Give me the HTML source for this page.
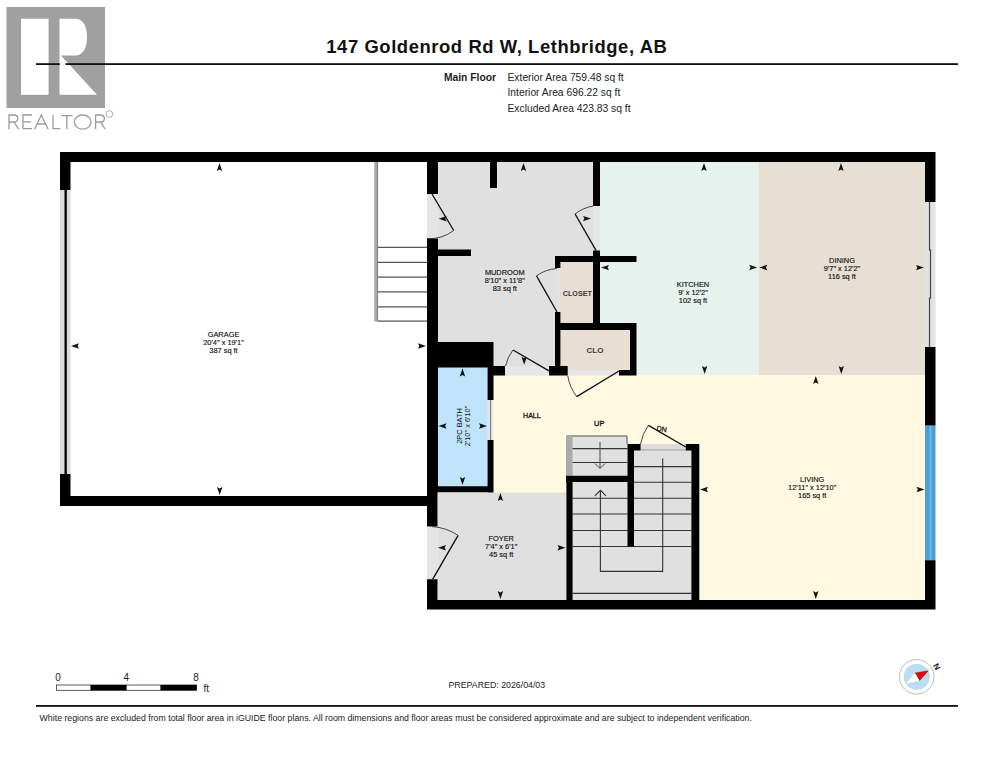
<!DOCTYPE html>
<html><head><meta charset="utf-8"><style>
html,body{margin:0;padding:0;background:#fff;}
body{width:993px;height:768px;overflow:hidden;position:relative;}
svg{position:absolute;left:0;top:0;font-family:"Liberation Sans",sans-serif;}
</style></head><body>
<svg width="993" height="768" viewBox="0 0 993 768">
<defs><path id="ar" d="M0,0 L2.7,8 L0,6.6 L-2.7,8 Z" fill="#111"/></defs>
<rect width="993" height="768" fill="#fff"/>
<!-- header -->
<text x="326.3" y="53" font-size="18.4" font-weight="bold" fill="#111" textLength="340.5" lengthAdjust="spacing">147 Goldenrod Rd W, Lethbridge, AB</text>

<text x="496" y="80.5" font-size="10.3" font-weight="bold" fill="#222" text-anchor="end">Main Floor</text>
<text x="507.5" y="80.5" font-size="10.3" fill="#222">Exterior Area 759.48 sq ft</text>
<text x="507.5" y="96.3" font-size="10.3" fill="#222">Interior Area 696.22 sq ft</text>
<text x="507.5" y="111.8" font-size="10.3" fill="#222">Excluded Area 423.83 sq ft</text>
<!-- logo -->
<rect x="6.5" y="7" width="98.5" height="101" fill="#a0a0a0"/>
<rect x="21" y="18.75" width="27.6" height="76" fill="#fff"/>
<path d="M59.5,18.75 H75 C84,18.75 87,27 87,37 C87,48 83,55.5 75,55.5 H61 L97,94.8 H59.5 Z" fill="#fff"/>
<rect x="36" y="63.2" width="922" height="1.8" fill="#111"/>
<rect x="59.8" y="62.5" width="5.7" height="3.2" fill="#f4f4f4"/>
<g fill="none" stroke="#9a9a9a" stroke-width="1.3">
<path d="M9,129.2 V115 H14 C19,115 19,122 14,122 H9 M14,122 L18.6,129.2"/>
<path d="M32,115 H23 V128.55 H32 M23,121.8 H31"/>
<path d="M34.6,129.2 L41.3,115 L48.1,129.2 M37.2,124 H45.5"/>
<path d="M53,115 V128.55 H60.4"/>
<path d="M61.2,115.65 H72.5 M66.85,115.65 V129.2"/>
<ellipse cx="82.7" cy="122.1" rx="8.3" ry="7.1"/>
<path d="M95.6,129.2 V115 H100.6 C105.6,115 105.6,122 100.6,122 H95.6 M100.6,122 L105.2,129.2"/>
<circle cx="109.4" cy="114" r="3.4" stroke-width="0.8"/>
</g>
<!-- plan -->
<rect x="438" y="162" width="155" height="213.6" fill="#e0e0e0" />
<rect x="593" y="162" width="166" height="213.6" fill="#e5f2ee" />
<rect x="759" y="162" width="166" height="213.6" fill="#e7ded4" />
<rect x="493" y="375.1" width="432" height="224.9" fill="#fff9e1" />
<rect x="437.5" y="492.5" width="128.9" height="107.5" fill="#e0e0e0" />
<rect x="437" y="367" width="51" height="119.5" fill="#bfe3fa" />
<rect x="560" y="262" width="33" height="61" fill="#e7ded4" />
<rect x="560" y="330" width="70" height="40" fill="#e7ded4" />
<rect x="572.6" y="482" width="118.8" height="118" fill="#e0e0e0" />
<rect x="634" y="450.4" width="57.4" height="149.6" fill="#e0e0e0" />
<rect x="566" y="435.6" width="61.5" height="40.1" fill="#e0e0e0" />
<rect x="60" y="190" width="10.5" height="284" fill="#dcdcdc" />
<rect x="64.5" y="190" width="2.3" height="284" fill="#000" />
<rect x="925" y="202" width="10.5" height="145" fill="#e2e2e2" />
<path d="M929.5,202 V250 H930.5 V298 H929.5 V347" fill="none" stroke="#444" stroke-width="1.2" />
<rect x="925" y="425.5" width="10.5" height="134.8" fill="#4a9fd6" />
<rect x="929.5" y="425.5" width="2.0" height="134.8" fill="#6db9e6" />
<rect x="427" y="194" width="11" height="44.5" fill="#e4e4e4" />
<rect x="593" y="206" width="7" height="44.4" fill="#e2e6e5" />
<rect x="505" y="366" width="44" height="9.6" fill="#e6e6e8" />
<rect x="567.7" y="370" width="51.3" height="5.6" fill="#e6e6e8" />
<rect x="427" y="526.6" width="10.5" height="52.7" fill="#e4e4e4" />
<rect x="555" y="268" width="5.4" height="44" fill="#e4e2e0" />
<rect x="487.6" y="400" width="5.9" height="40" fill="#ebebeb" />
<rect x="489.8" y="400" width="1.4" height="40" fill="#8a8a8a" />
<rect x="640.6" y="444" width="45.2" height="6.4" fill="#dcdcdc" />
<rect x="374.3" y="162" width="3.7" height="159.5" fill="#a8a8a8" />
<line x1="377.6" y1="162" x2="377.6" y2="321.5" stroke="#777" stroke-width="0.8"/>
<line x1="378" y1="247.3" x2="427" y2="247.3" stroke="#555" stroke-width="1.3"/>
<line x1="378" y1="262.3" x2="427" y2="262.3" stroke="#555" stroke-width="1.3"/>
<line x1="378" y1="277.2" x2="427" y2="277.2" stroke="#555" stroke-width="1.3"/>
<line x1="378" y1="291.9" x2="427" y2="291.9" stroke="#555" stroke-width="1.3"/>
<line x1="378" y1="306.8" x2="427" y2="306.8" stroke="#555" stroke-width="1.3"/>
<line x1="378" y1="321.1" x2="427" y2="321.1" stroke="#555" stroke-width="1.3"/>
<path d="M566.5,475.7 V436 H627 V444" fill="none" stroke="#555" stroke-width="1" />
<rect x="566" y="435.6" width="6.5" height="40.1" fill="#aaa" />
<line x1="572.5" y1="448.6" x2="627.5" y2="448.6" stroke="#333" stroke-width="1.1"/>
<line x1="572.5" y1="462.5" x2="627.5" y2="462.5" stroke="#333" stroke-width="1.1"/>
<line x1="600" y1="442" x2="600" y2="468" stroke="#444" stroke-width="1"/>
<path d="M595,463.5 L600,468.5 L605,463.5" fill="none" stroke="#444" stroke-width="1" />
<line x1="640.6" y1="450" x2="685.8" y2="450" stroke="#999" stroke-width="1"/>
<line x1="634" y1="466.6" x2="691.4" y2="466.6" stroke="#333" stroke-width="1.1"/>
<line x1="634" y1="482.3" x2="691.4" y2="482.3" stroke="#333" stroke-width="1.1"/>
<line x1="572.6" y1="498.2" x2="691.4" y2="498.2" stroke="#333" stroke-width="1.1"/>
<line x1="572.6" y1="514" x2="691.4" y2="514" stroke="#333" stroke-width="1.1"/>
<line x1="572.6" y1="530.5" x2="691.4" y2="530.5" stroke="#333" stroke-width="1.1"/>
<line x1="572.6" y1="546.5" x2="691.4" y2="546.5" stroke="#333" stroke-width="1.1"/>
<line x1="572.6" y1="593.4" x2="691.4" y2="593.4" stroke="#333" stroke-width="1.1"/>
<path d="M600.4,490.5 V571.4 H662.7 V458.4" fill="none" stroke="#333" stroke-width="1.1" />
<path d="M594.8,495.8 L600.4,490.3 L606,495.8" fill="none" stroke="#333" stroke-width="1.1" />
<path d="M60,152H935.5V162H60ZM60,152H70.5V190H60ZM60,474H70.5V506H60ZM60,496H437.5V506H60ZM427,600H935.5V609.5H427ZM925,152H935.5V202H925ZM925,347H935.5V425.5H925ZM925,560.3H935.5V609.5H925ZM427,162H438V194H427ZM427,238.5H438V342H427ZM438,249.5H471V256H438ZM490,162H497V188H490ZM427,342H493.5V367.5H427ZM427,367H438V492.5H427ZM487.6,367H493.5V400H487.6ZM487.6,440H493.5V492.5H487.6ZM427,486.2H493.5V492.3H427ZM427,492H437.5V526.6H427ZM427,579.3H437.5V609.5H427ZM493.5,366H505V375.6H493.5ZM593,162H600V206H593ZM593,250.4H600V323H593ZM555,256H636.5V262H555ZM555,256H560.4V268H555ZM555,312H560.4V375.6H555ZM549,366H567.7V375.6H549ZM555,323H636.5V330H555ZM630,323H636.5V375.6H630ZM619,370H636.5V375.6H619ZM566,475.7H634V482H566ZM627.5,444H634V546.5H627.5ZM627.5,444H640.6V450.4H627.5ZM685.8,444H699.3V450.4H685.8ZM691.4,444H699.3V609.5H691.4ZM566.4,475.7H572.6V609.5H566.4Z" fill="#000"/>
<path d="M432,194 L453.7,230.5" fill="none" stroke="#111" stroke-width="1.35" />
<path d="M453.7,230.5 A40,40 0 0 1 427,238.6" fill="none" stroke="#333" stroke-width="0.9" />
<path d="M596,250.4 L575.1,214" fill="none" stroke="#111" stroke-width="1.35" />
<path d="M575.1,214 A40,40 0 0 1 593,206" fill="none" stroke="#333" stroke-width="0.9" />
<path d="M557,312 L536.5,275.8" fill="none" stroke="#111" stroke-width="1.35" />
<path d="M536.5,275.8 A40,40 0 0 1 557,268.5" fill="none" stroke="#333" stroke-width="0.9" />
<path d="M549,370.8 L513,350" fill="none" stroke="#111" stroke-width="1.35" />
<path d="M513,350 A40,40 0 0 0 505.5,366" fill="none" stroke="#333" stroke-width="0.9" />
<path d="M619,371 L576.7,396.7" fill="none" stroke="#111" stroke-width="1.35" />
<path d="M576.7,396.7 A48,48 0 0 1 567.7,375.6" fill="none" stroke="#333" stroke-width="0.9" />
<path d="M685.8,447 L648.4,425.4" fill="none" stroke="#111" stroke-width="1.35" />
<path d="M648.4,425.4 A44,44 0 0 0 640.6,444" fill="none" stroke="#333" stroke-width="0.9" />
<path d="M432.6,579.3 L458.1,535.4" fill="none" stroke="#111" stroke-width="1.35" />
<path d="M458.1,535.4 A52,52 0 0 0 432,526.6" fill="none" stroke="#333" stroke-width="0.9" />
<use href="#ar" transform="translate(219.5,163) rotate(0)"/>
<use href="#ar" transform="translate(219.7,495) rotate(180)"/>
<use href="#ar" transform="translate(71,346) rotate(270)"/>
<use href="#ar" transform="translate(426,346) rotate(90)"/>
<use href="#ar" transform="translate(523.5,163) rotate(0)"/>
<use href="#ar" transform="translate(438.7,218.8) rotate(270)"/>
<use href="#ar" transform="translate(591,218.6) rotate(90)"/>
<use href="#ar" transform="translate(524.2,364.8) rotate(180)"/>
<use href="#ar" transform="translate(704,163) rotate(0)"/>
<use href="#ar" transform="translate(704.6,374) rotate(180)"/>
<use href="#ar" transform="translate(601,267.6) rotate(270)"/>
<use href="#ar" transform="translate(757.2,267.5) rotate(90)"/>
<use href="#ar" transform="translate(841,163) rotate(0)"/>
<use href="#ar" transform="translate(841.3,374) rotate(180)"/>
<use href="#ar" transform="translate(759.3,267.5) rotate(270)"/>
<use href="#ar" transform="translate(924,267.6) rotate(90)"/>
<use href="#ar" transform="translate(462.5,368.5) rotate(0)"/>
<use href="#ar" transform="translate(462.5,485) rotate(180)"/>
<use href="#ar" transform="translate(438.5,426) rotate(270)"/>
<use href="#ar" transform="translate(487,426) rotate(90)"/>
<use href="#ar" transform="translate(500.4,493) rotate(0)"/>
<use href="#ar" transform="translate(500.4,599) rotate(180)"/>
<use href="#ar" transform="translate(438,547.7) rotate(270)"/>
<use href="#ar" transform="translate(565.5,547.7) rotate(90)"/>
<use href="#ar" transform="translate(815.8,376) rotate(0)"/>
<use href="#ar" transform="translate(815.8,599) rotate(180)"/>
<use href="#ar" transform="translate(700,489.5) rotate(270)"/>
<use href="#ar" transform="translate(924.5,489.5) rotate(90)"/>
<text x="223.5" y="336.6" font-size="7.4" fill="#111" text-anchor="middle" font-weight="normal" stroke="#111" stroke-width="0.15">GARAGE</text>
<text x="223.5" y="344.70000000000005" font-size="7.4" fill="#111" text-anchor="middle" font-weight="normal" stroke="#111" stroke-width="0.15">20'4" x 19'1"</text>
<text x="223.5" y="352.8" font-size="7.4" fill="#111" text-anchor="middle" font-weight="normal" stroke="#111" stroke-width="0.15">387 sq ft</text>
<text x="504.8" y="274.6" font-size="7.4" fill="#111" text-anchor="middle" font-weight="normal" stroke="#111" stroke-width="0.15">MUDROOM</text>
<text x="504.8" y="282.70000000000005" font-size="7.4" fill="#111" text-anchor="middle" font-weight="normal" stroke="#111" stroke-width="0.15">8'10" x 11'8"</text>
<text x="504.8" y="290.8" font-size="7.4" fill="#111" text-anchor="middle" font-weight="normal" stroke="#111" stroke-width="0.15">83 sq ft</text>
<text x="693" y="286.6" font-size="7.4" fill="#111" text-anchor="middle" font-weight="normal" stroke="#111" stroke-width="0.15">KITCHEN</text>
<text x="693" y="294.70000000000005" font-size="7.4" fill="#111" text-anchor="middle" font-weight="normal" stroke="#111" stroke-width="0.15">9' x 12'2"</text>
<text x="693" y="302.8" font-size="7.4" fill="#111" text-anchor="middle" font-weight="normal" stroke="#111" stroke-width="0.15">102 sq ft</text>
<text x="842" y="262.6" font-size="7.4" fill="#111" text-anchor="middle" font-weight="normal" stroke="#111" stroke-width="0.15">DINING</text>
<text x="842" y="270.70000000000005" font-size="7.4" fill="#111" text-anchor="middle" font-weight="normal" stroke="#111" stroke-width="0.15">9'7" x 12'2"</text>
<text x="842" y="278.8" font-size="7.4" fill="#111" text-anchor="middle" font-weight="normal" stroke="#111" stroke-width="0.15">116 sq ft</text>
<text x="501.2" y="540.6" font-size="7.4" fill="#111" text-anchor="middle" font-weight="normal" stroke="#111" stroke-width="0.15">FOYER</text>
<text x="501.2" y="548.7" font-size="7.4" fill="#111" text-anchor="middle" font-weight="normal" stroke="#111" stroke-width="0.15">7'4" x 6'1"</text>
<text x="501.2" y="556.8000000000001" font-size="7.4" fill="#111" text-anchor="middle" font-weight="normal" stroke="#111" stroke-width="0.15">45 sq ft</text>
<text x="812.2" y="482.1" font-size="7.4" fill="#111" text-anchor="middle" font-weight="normal" stroke="#111" stroke-width="0.15">LIVING</text>
<text x="812.2" y="490.20000000000005" font-size="7.4" fill="#111" text-anchor="middle" font-weight="normal" stroke="#111" stroke-width="0.15">12'11" x 12'10"</text>
<text x="812.2" y="498.3" font-size="7.4" fill="#111" text-anchor="middle" font-weight="normal" stroke="#111" stroke-width="0.15">165 sq ft</text>
<g transform="translate(465.3,426) rotate(-90)">
<text x="0" y="-3.5" font-size="7.4" fill="#111" text-anchor="middle" font-weight="normal" >2PC BATH</text>
<text x="0" y="4.6" font-size="7.4" fill="#111" text-anchor="middle" font-weight="normal" >2'10" x 6'10"</text>
</g>
<text x="577.3" y="295.5" font-size="8" fill="#3f3a36" text-anchor="middle" font-weight="bold" textLength="29" lengthAdjust="spacingAndGlyphs">CLOSET</text>
<text x="595" y="352.5" font-size="8" fill="#3f3a36" text-anchor="middle" font-weight="bold" >CLO</text>
<text x="531.9" y="418" font-size="7.4" fill="#111" text-anchor="middle" font-weight="normal" stroke="#111" stroke-width="0.3" textLength="17.7" lengthAdjust="spacingAndGlyphs">HALL</text>
<text x="599.2" y="426" font-size="7.4" fill="#111" text-anchor="middle" font-weight="normal" stroke="#111" stroke-width="0.3">UP</text>
<text x="661.7" y="431.6" font-size="7.2" fill="#111" text-anchor="middle" font-weight="normal" stroke="#111" stroke-width="0.25" transform="rotate(9 661.7 429)">DN</text>
<!-- scale bar -->
<rect x="56.5" y="685" width="140" height="5.3" fill="#fff" stroke="#333" stroke-width="0.8"/>
<rect x="90.4" y="685" width="36.2" height="5.3" fill="#000"/>
<rect x="160.4" y="685" width="36.3" height="5.3" fill="#000"/>
<text x="58" y="681" font-size="10" fill="#222" text-anchor="middle">0</text>
<text x="126.2" y="681" font-size="10" fill="#222" text-anchor="middle">4</text>
<text x="196.1" y="681" font-size="10" fill="#222" text-anchor="middle">8</text>
<text x="203.5" y="691.5" font-size="10" fill="#222">ft</text>
<text x="448.5" y="688" font-size="8.8" fill="#222">PREPARED: 2026/04/03</text>
<!-- compass -->
<circle cx="916.7" cy="676.8" r="17.3" fill="#fff" stroke="#bbb" stroke-width="1"/>
<circle cx="916.7" cy="676.8" r="13" fill="#b8def3"/>
<path d="M915,672.9 L928.3,670.8 L919.5,680.7 Z" fill="#e00a0a" stroke="#700" stroke-width="0.4"/>
<path d="M915,672.9 L906,683.5 L919.5,680.7 Z" fill="#fff"/>
<text x="937" y="669.6" font-size="8.4" font-weight="bold" fill="#222" text-anchor="middle" transform="rotate(60 937 666.5)">N</text>
<!-- footer -->
<rect x="36" y="705" width="922" height="1.8" fill="#111"/>
<text x="39.6" y="721.3" font-size="8.77" fill="#222">White regions are excluded from total floor area in iGUIDE floor plans. All room dimensions and floor areas must be considered approximate and are subject to independent verification.</text>
</svg>
</body></html>
